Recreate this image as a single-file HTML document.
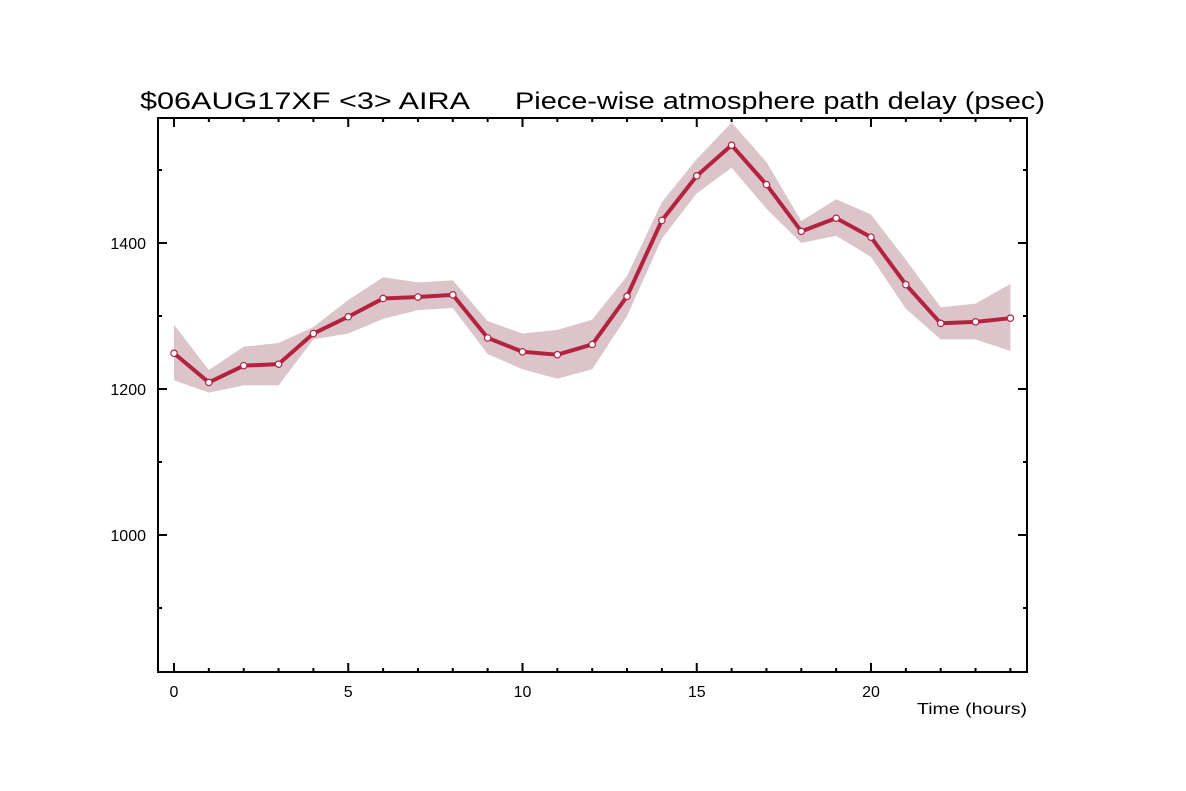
<!DOCTYPE html>
<html><head><meta charset="utf-8"><style>
body{margin:0;background:#fff}
svg{display:block;font-family:"Liberation Sans",sans-serif}
</style></head><body>
<svg id="c" width="1186" height="791" viewBox="0 0 1186 791">
<text x="140" y="109" font-size="24" textLength="330" lengthAdjust="spacingAndGlyphs">$06AUG17XF &lt;3&gt;  AIRA</text>
<text x="515" y="109" font-size="24" textLength="530" lengthAdjust="spacingAndGlyphs">Piece-wise atmosphere path delay (psec)</text>
<text x="917" y="714" font-size="16" textLength="110" lengthAdjust="spacingAndGlyphs">Time (hours)</text>
<g id="g"></g>
</svg>
<script>
const hours=[0,1,2,3,4,5,6,7,8,9,10,11,12,13,14,15,16,17,18,19,20,21,22,23,24];
const delay=[1249,1209,1232,1234,1276,1299,1324,1326,1329,1270,1251,1247,1261,1327,1431,1492,1534,1480,1416,1434,1408,1343,1290,1292,1297];
const upper=[1288,1226,1258,1263,1285,1322,1353,1346,1349,1293,1276,1281,1295,1355,1456,1515,1565,1511,1430,1460,1439,1377,1312,1317,1344];
const lower=[1212,1195,1205,1205,1268,1276,1296,1308,1311,1248,1227,1214,1227,1300,1406,1468,1503,1447,1400,1410,1381,1310,1268,1268,1252];
const yTicks=[1000,1200,1400];
const xTicks=[0,5,10,15,20];
const L=158,R=1027,T=118,B=672;
const X=h=>174+h*34.85;
const Y=v=>389-(v-1200)*0.73;
const ns="http://www.w3.org/2000/svg",g=document.getElementById('g');
function mk(t,a){const e=document.createElementNS(ns,t);for(const k in a)e.setAttribute(k,a[k]);g.appendChild(e);return e;}
let pts=hours.map((h,i)=>X(h)+','+Y(upper[i])).concat(hours.map((h,i)=>X(h)+','+Y(lower[i])).reverse());
const band=mk('polygon',{points:pts.join(' '),fill:'#dbc5ca'});


const ln=mk('polyline',{points:hours.map((h,i)=>X(h)+','+Y(delay[i])).join(' '),fill:'none',stroke:'#b32340','stroke-width':4,'stroke-linejoin':'round'});


hours.forEach((h,i)=>{const c=mk('circle',{cx:X(h),cy:Y(delay[i]),r:3.2,fill:'#fff',stroke:'#b32340','stroke-width':1.2});

});
const fr=mk('rect',{x:L,y:T,width:R-L,height:B-T,fill:'none',stroke:'#000','stroke-width':2});


for(let h=0;h<=24;h++){const len=h%5==0?9:4;
mk('line',{x1:X(h),x2:X(h),y1:B,y2:B-len,stroke:'#000','stroke-width':2});
mk('line',{x1:X(h),x2:X(h),y1:T,y2:T+len,stroke:'#000','stroke-width':2});}
for(let v=900;v<=1500;v+=100){const len=v%200==0?9:4;
mk('line',{x1:L,x2:L+len,y1:Y(v),y2:Y(v),stroke:'#000','stroke-width':2});
mk('line',{x1:R,x2:R-len,y1:Y(v),y2:Y(v),stroke:'#000','stroke-width':2});}
xTicks.forEach(t=>{const e=mk('text',{x:X(t),y:697,'font-size':16,'text-anchor':'middle'});e.textContent=t;

});
yTicks.forEach(t=>{const e=mk('text',{x:146,y:Y(t)+6,'font-size':16,'text-anchor':'end'});e.textContent=t;

});
</script>
</body></html>
